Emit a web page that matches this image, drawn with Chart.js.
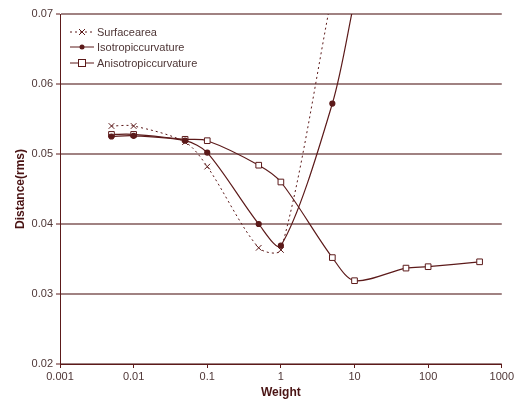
<!DOCTYPE html>
<html lang="en">
<head>
  <meta charset="UTF-8">
  <title>Distance vs Weight</title>
  <script src="https://cdn.jsdelivr.net/npm/chart.js@4.4.0/dist/chart.umd.min.js"></script>
  <style>
    html, body { margin: 0; padding: 0; background: #fff; }
    #wrap { width: 516px; height: 400px; }
  </style>
</head>
<body>
  <div id="wrap"><canvas id="chart" width="516" height="400"></canvas></div>
  <script>
    const weights = [0.005, 0.01, 0.05, 0.1, 0.5, 1, 5, 10, 50, 100, 500];
    const surfaceArea = [0.0540, 0.0540, 0.0517, 0.0482, 0.0366, 0.0363, 0.0730];
    const isotropic = [0.0525, 0.0526, 0.0519, 0.0502, 0.0400, 0.0369, 0.0572, 0.0720];
    const anisotropic = [0.0528, 0.0528, 0.0521, 0.0519, 0.0484, 0.0460, 0.0352, 0.0319, 0.0337, 0.0339, 0.0346];
    const seriesNames = ['Surfacearea', 'Isotropiccurvature', 'Anisotropiccurvature'];
    const xTicks = [0.001, 0.01, 0.1, 1, 10, 100, 1000];
    const xTickLabels = ['0.001', '0.01', '0.1', '1', '10', '100', '1000'];

    const maroon = '#5c1a1a';
    const gridCol = '#a08282';
    const textCol = '#4e3636';
    const pts = arr => arr.map((v, i) => ({x: weights[i], y: v}));

    // legend drawn by hand so the line + marker sample looks like the original
    const legendPlugin = {
      id: 'handLegend',
      afterDraw(chart) {
        const ctx = chart.ctx;
        const rows = [32, 47, 63];
        ctx.save();
        chart.data.datasets.forEach((ds, i) => {
          const y = rows[i];
          ctx.strokeStyle = maroon;
          ctx.lineWidth = 1;
          ctx.setLineDash(ds.borderDash || []);
          ctx.beginPath(); ctx.moveTo(70, y); ctx.lineTo(94, y); ctx.stroke();
          ctx.setLineDash([]);
          const cx = 82;
          if (ds.pointStyle === 'crossRot') {
            ctx.beginPath();
            ctx.moveTo(cx - 3, y - 3); ctx.lineTo(cx + 3, y + 3);
            ctx.moveTo(cx + 3, y - 3); ctx.lineTo(cx - 3, y + 3);
            ctx.stroke();
          } else if (ds.pointStyle === 'circle') {
            ctx.fillStyle = maroon;
            ctx.beginPath(); ctx.arc(cx, y, 2.5, 0, Math.PI * 2); ctx.fill();
          } else {
            ctx.fillStyle = '#fff';
            ctx.fillRect(cx - 3.5, y - 3.5, 7, 7);
            ctx.strokeRect(cx - 3.5, y - 3.5, 7, 7);
          }
          ctx.fillStyle = textCol;
          ctx.font = '11px "Liberation Sans", Arial, sans-serif';
          ctx.textBaseline = 'middle';
          ctx.textAlign = 'left';
          ctx.fillText(ds.label, 97, y + 0.5);
        });
        ctx.restore();
      }
    };

    new Chart(document.getElementById('chart'), {
      type: 'line',
      plugins: [legendPlugin],
      data: {
        datasets: [
          {
            label: seriesNames[0], data: pts(surfaceArea),
            borderColor: maroon, borderWidth: 1, borderDash: [2, 3], tension: 0.3,
            pointStyle: 'crossRot', pointRadius: 4, pointBorderColor: maroon, pointBorderWidth: 1,
            pointBackgroundColor: maroon
          },
          {
            label: seriesNames[1], data: pts(isotropic),
            borderColor: maroon, borderWidth: 1.2, tension: 0.3,
            pointStyle: 'circle', pointRadius: 2.5, pointBorderColor: maroon, pointBackgroundColor: maroon
          },
          {
            label: seriesNames[2], data: pts(anisotropic),
            borderColor: maroon, borderWidth: 1.2, tension: 0.3,
            pointStyle: 'rect', pointRadius: 4, pointBorderColor: maroon, pointBorderWidth: 1,
            pointBackgroundColor: '#fff'
          }
        ]
      },
      options: {
        responsive: false,
        animation: false,
        layout: { padding: { top: 14, right: 12, left: 13, bottom: 0 } },
        plugins: { legend: { display: false }, tooltip: { enabled: false } },
        scales: {
          x: {
            type: 'logarithmic', min: 0.001, max: 1000,
            afterBuildTicks: s => { s.ticks = xTicks.map(v => ({value: v})); },
            afterFit: s => { s.height = 36; },
            ticks: {
              callback: (v) => xTickLabels[xTicks.indexOf(v)] || '',
              color: textCol, font: { size: 11, family: '"Liberation Sans", Arial, sans-serif' },
              padding: 2, maxRotation: 0, autoSkip: false
            },
            grid: { drawOnChartArea: false, color: maroon, tickLength: 4 },
            border: { color: maroon, width: 1 },
            title: {
              display: true, text: 'Weight', color: '#4a1414', padding: { top: 0, bottom: 0 },
              font: { size: 12, weight: 'bold', family: '"Liberation Sans", Arial, sans-serif' }
            }
          },
          y: {
            min: 0.02, max: 0.07,
            afterBuildTicks: s => { s.ticks = [0.02, 0.03, 0.04, 0.05, 0.06, 0.07].map(v => ({value: v})); },
            afterFit: s => { s.width = 47; },
            ticks: {
              callback: v => v.toFixed(2),
              color: textCol, font: { size: 11, family: '"Liberation Sans", Arial, sans-serif' },
              padding: 3
            },
            grid: { color: gridCol, lineWidth: 2, tickLength: 4, tickColor: maroon, tickWidth: 1 },
            border: { color: maroon, width: 1 },
            title: {
              display: true, text: 'Distance(rms)', color: '#4a1414', padding: { top: 0, bottom: 0 },
              font: { size: 12, weight: 'bold', family: '"Liberation Sans", Arial, sans-serif' }
            }
          }
        }
      }
    });
  </script>
</body>
</html>
